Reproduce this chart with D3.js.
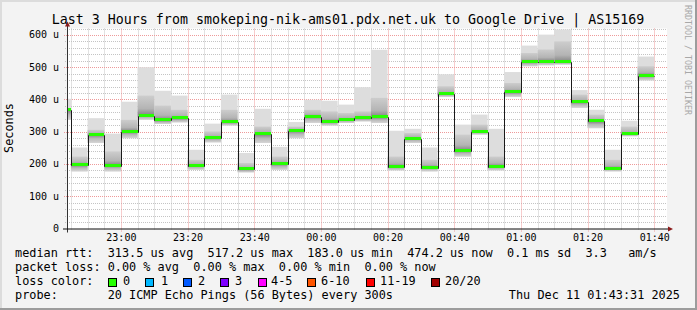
<!DOCTYPE html>
<html>
<head>
<meta charset="utf-8">
<script src="https://cdn.jsdelivr.net/npm/d3@7"></script>
<style>
  body { margin: 0; background: #f3f3f3; }
  svg { display: block; }
  text { font-family: "DejaVu Sans Mono", monospace; fill: #000; }
</style>
</head>
<body>
<svg id="chart" width="697" height="310"></svg>
<script>
// ---- data (microseconds), one sample per 5 min, bar k covers [22:40 + 5k, 22:45 + 5k]
var rttMedian = [366, 197, 291, 195, 300, 350, 335, 341, 195, 281, 329, 183, 292, 200, 303, 347, 330, 336,
                 341, 345, 191, 279, 189, 416, 241, 299, 192, 422, 516, 517, 515, 392, 332, 185, 292, 474];
var rttMax    = [402, 251, 342, 294, 393, 500, 427, 412, 244, 325, 415, 234, 371, 253, 330, 399, 396, 384,
                 438, 554, 303, 309, 251, 478, 322, 353, 309, 485, 567, 601, 617, 429, 368, 244, 334, 533];
var rttUpper  = [374, 223, 306, 239, 337, 412, 381, 368, 213, 301, 368, 203, 316, 223, 316, 368, 363, 358,
                 363, 405, 223, 296, 213, 441, 291, 322, 223, 451, 544, 555, 580, 415, 353, 213, 316, 503];
var rttMin    = [337, 177, 265, 177, 280, 337, 324, 329, 182, 267, 319, 174, 265, 182, 280, 327, 319, 327,
                 332, 327, 180, 265, 177, 408, 223, 291, 180, 408, 503, 506, 508, 374, 311, 177, 286, 459];
var yTicks = [0, 100, 200, 300, 400, 500, 600];

var lossLabels = ["0", "1", "2", "3", "4-5", "6-10", "11-19", "20/20"];
var lossColors = ["#26ff00", "#00b8ff", "#0059ff", "#7e00ff", "#ff00ff", "#ff5500", "#ff0000", "#a10000"];
var lossBoxX   = [108, 145, 183, 220, 258, 307, 366, 431];
var lossLabelX = [123, 161, 198, 235, 271, 321, 380, 445];

var legendRows = [
  "median rtt:  313.5 us avg  517.2 us max  183.0 us min  474.2 us now  0.1 ms sd  3.3   am/s",
  "packet loss: 0.00 % avg  0.00 % max  0.00 % min  0.00 % now",
  "loss color:",
  "probe:       20 ICMP Echo Pings (56 Bytes) every 300s"
];

var svg = d3.select("#chart");
var W = 697, H = 310;

// frame
svg.append("rect").attr("width", W).attr("height", H).attr("fill", "#f3f3f3");
svg.append("rect").attr("x", 0).attr("y", 0).attr("width", W).attr("height", 2).attr("fill", "#dcdcdc");
svg.append("rect").attr("x", 0).attr("y", 0).attr("width", 2).attr("height", H).attr("fill", "#dcdcdc");
svg.append("rect").attr("x", W - 2).attr("y", 0).attr("width", 2).attr("height", H).attr("fill", "#9c9c9c");
svg.append("rect").attr("x", 0).attr("y", H - 2).attr("width", W).attr("height", 2).attr("fill", "#9c9c9c");

var pL = 67, pR = 667, pT = 28.5, pB = 228.5;
var t0 = new Date(2025, 11, 10, 22, 43, 50), t1 = new Date(2025, 11, 11, 1, 43, 50);
var x = d3.scaleTime().domain([t0, t1]).range([pL, pR]);
var y = d3.scaleLinear().domain([0, 620]).range([pB, pT]);

svg.append("rect").attr("x", pL).attr("y", pT).attr("width", pR - pL).attr("height", pB - pT)
  .attr("fill", "#fff");

// grid
var g = svg.append("g");
var majorT = x.ticks(d3.timeMinute.every(20));
var minorT = x.ticks(d3.timeMinute.every(5)).filter(d => d.getMinutes() % 20 !== 0);
var minorY = d3.range(20, 621, 20).filter(d => d % 100 !== 0);
g.selectAll(".mx").data(minorT).join("line")
  .attr("x1", d => Math.round(x(d)) + 0.5).attr("x2", d => Math.round(x(d)) + 0.5).attr("y1", pT).attr("y2", pB + 2)
  .attr("stroke", "#c4c4c4").attr("stroke-dasharray", "1,1");
g.selectAll(".my").data(minorY).join("line")
  .attr("y1", d => Math.round(y(d)) + 0.5).attr("y2", d => Math.round(y(d)) + 0.5).attr("x1", pL - 2).attr("x2", pR)
  .attr("stroke", "#c4c4c4").attr("stroke-dasharray", "1,1");
g.selectAll(".Mx").data(majorT).join("line")
  .attr("x1", d => Math.round(x(d)) + 0.5).attr("x2", d => Math.round(x(d)) + 0.5).attr("y1", pT).attr("y2", pB + 3)
  .attr("stroke", "#ee9a9a").attr("stroke-dasharray", "1,1");
g.selectAll(".My").data(yTicks.filter(d => d > 0)).join("line")
  .attr("y1", d => Math.round(y(d)) + 0.5).attr("y2", d => Math.round(y(d)) + 0.5).attr("x1", pL - 3).attr("x2", pR)
  .attr("stroke", "#ee9a9a").attr("stroke-dasharray", "1,1");

// smoke
var defs = svg.append("defs");
defs.append("clipPath").attr("id", "plotclip").append("rect")
  .attr("x", pL).attr("y", pT).attr("width", pR - pL).attr("height", pB - pT);
var gu = defs.append("linearGradient").attr("id", "gup").attr("x1", 0).attr("y1", 0).attr("x2", 0).attr("y2", 1);
gu.append("stop").attr("offset", 0).attr("stop-color", "#cdcdcd");
gu.append("stop").attr("offset", 0.65).attr("stop-color", "#b4b4b4");
gu.append("stop").attr("offset", 1).attr("stop-color", "#808080");
var gd = defs.append("linearGradient").attr("id", "gdn").attr("x1", 0).attr("y1", 0).attr("x2", 0).attr("y2", 1);
gd.append("stop").attr("offset", 0).attr("stop-color", "#808080");
gd.append("stop").attr("offset", 0.45).attr("stop-color", "#b8b8b8");
gd.append("stop").attr("offset", 1).attr("stop-color", "#d6d6d6");

var base = new Date(2025, 11, 10, 22, 40, 0);
var bars = rttMedian.map(function(m, i) {
  return {
    s: d3.timeMinute.offset(base, 5 * i), e: d3.timeMinute.offset(base, 5 * i + 5),
    med: m, max: rttMax[i], up: rttUpper[i], min: rttMin[i]
  };
});

var sm = svg.append("g").attr("clip-path", "url(#plotclip)");
sm.selectAll(".s0").data(bars).join("rect")
  .attr("x", d => x(d.s)).attr("width", d => x(d.e) - x(d.s))
  .attr("y", d => y(d.max)).attr("height", d => y(d.min) - y(d.max)).attr("fill", "#dddddd");
sm.selectAll(".s1").data(bars).join("rect")
  .attr("x", d => x(d.s)).attr("width", d => x(d.e) - x(d.s))
  .attr("y", d => y(d.up)).attr("height", d => y(d.med) - y(d.up)).attr("fill", "url(#gup)");
sm.selectAll(".s2").data(bars).join("rect")
  .attr("x", d => x(d.s)).attr("width", d => x(d.e) - x(d.s))
  .attr("y", d => y(d.med)).attr("height", d => y(d.min) - y(d.med)).attr("fill", "url(#gdn)");

// median step line
var pts = [];
bars.forEach(function(d) { pts.push([d.s, d.med]); pts.push([d.e, d.med]); });
sm.append("path").datum(pts)
  .attr("d", d3.line().x(d => Math.round(x(d[0])) + 0.5).y(d => Math.round(y(d[1])) + 0.5))
  .attr("fill", "none").attr("stroke", "#1a1a1a").attr("stroke-width", 1);
sm.selectAll(".med").data(bars).join("line")
  .attr("x1", d => Math.round(x(d.s)) + 1).attr("x2", d => Math.round(x(d.e)))
  .attr("y1", d => Math.round(y(d.med)) - 0.5).attr("y2", d => Math.round(y(d.med)) - 0.5)
  .attr("stroke", lossColors[0]).attr("stroke-width", 3);

// axes
var ax = svg.append("g");
ax.append("line").attr("x1", pL + 0.5).attr("x2", pL + 0.5).attr("y1", pB + 4).attr("y2", pT - 3)
  .attr("stroke", "#333");
ax.append("line").attr("x1", pL - 4).attr("x2", pR + 3).attr("y1", pB + 0.5).attr("y2", pB + 0.5)
  .attr("stroke", "#111");
ax.append("path").attr("d", "M" + (pL - 2) + "," + (pT - 2) + "L" + (pL + 3) + "," + (pT - 2) + "L" + (pL + 0.5) + "," + (pT - 7) + "Z")
  .attr("fill", "#8b1a1a");
ax.append("path").attr("d", "M" + (pR + 1) + "," + (pB - 2) + "L" + (pR + 1) + "," + (pB + 3) + "L" + (pR + 6) + "," + (pB + 0.5) + "Z")
  .attr("fill", "#8b1a1a");

ax.selectAll(".yl").data(yTicks).join("text")
  .attr("x", 59).attr("y", d => y(d) + 3.5).attr("text-anchor", "end").attr("font-size", "10px")
  .text(d => d === 0 ? "0" : d + " u");
ax.selectAll(".xl").data(majorT).join("text")
  .attr("x", d => x(d) + 0.5).attr("y", 241).attr("text-anchor", "middle").attr("font-size", "10px")
  .text(d3.timeFormat("%H:%M"));

svg.append("text").attr("transform", "translate(13," + 128 + ") rotate(-90)")
  .attr("text-anchor", "middle").attr("font-size", "11.85px").text("Seconds");

svg.append("text").attr("x", 348).attr("y", 24).attr("text-anchor", "middle").attr("font-size", "13.3px")
  .text("Last 3 Hours from smokeping-nik-ams01.pdx.net.uk to Google Drive | AS15169");

svg.append("text").attr("transform", "translate(685,5) rotate(90)")
  .attr("font-size", "8.3px").style("fill", "#a8a8a8").text("RRDTOOL / TOBI OETIKER");

// legend
var rowY = [257, 271, 285, 299];
svg.selectAll(".lg").data(legendRows).join("text")
  .attr("x", 15).attr("y", (d, i) => rowY[i]).attr("font-size", "11.85px")
  .attr("xml:space", "preserve").style("white-space", "pre").text(d => d);
svg.selectAll(".lb").data(lossColors).join("rect")
  .attr("x", (d, i) => lossBoxX[i] + 0.5).attr("y", 278.5).attr("width", 8).attr("height", 8)
  .attr("fill", d => d).attr("stroke", "#000");
svg.selectAll(".ll").data(lossLabels).join("text")
  .attr("x", (d, i) => lossLabelX[i]).attr("y", 285).attr("font-size", "11.85px").text(d => d);
svg.append("text").attr("x", 680).attr("y", 299).attr("text-anchor", "end").attr("font-size", "11.85px")
  .text("Thu Dec 11 01:43:31 2025");
</script>
</body>
</html>
